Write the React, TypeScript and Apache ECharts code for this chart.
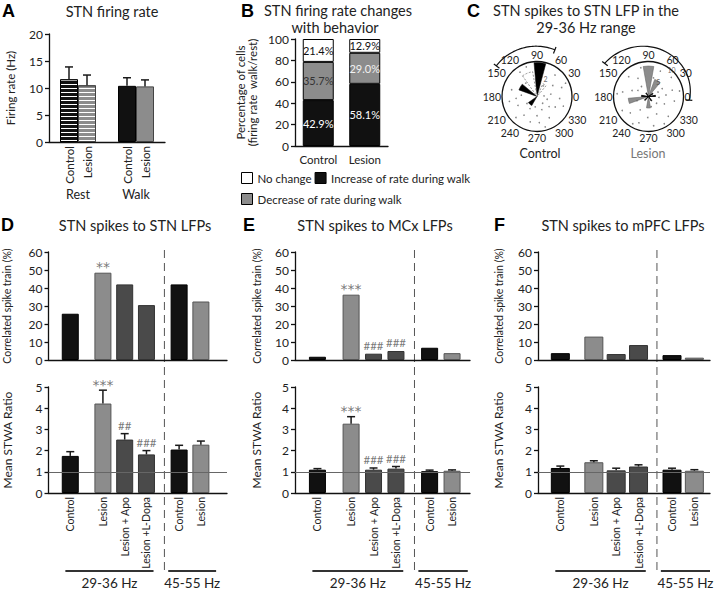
import React, { useEffect, useRef } from 'react';
import * as echarts from 'echarts';

const FONT = 'Lato, "Open Sans", Arial, sans-serif';
const STAR_FONT = '"DejaVu Sans", sans-serif';
const INK = '#222';

// ---------- Panel A: STN firing rate ----------
const aGroups = ['Rest', 'Walk'];
const aControl = [11.6, 10.4];
const aControlErr = [13.9, 11.9];
const aLesion = [10.5, 10.3];
const aLesionErr = [12.4, 11.5];

// ---------- Panel B: firing rate changes with behavior ----------
const bCategories = ['Control', 'Lesion'];
const bIncrease = [42.9, 58.1];
const bDecrease = [35.7, 29.0];
const bNoChange = [21.4, 12.9];

// ---------- Panel C: phase roses [start angle, end angle, relative length] ----------
const cControlBlack = [[75, 95, 0.97], [140, 160, 0.55], [215, 240, 0.3]];
const cControlWhite = [[100, 125, 0.72], [50, 65, 0.4]];
const cLesionGray = [[80, 100, 0.87], [50, 70, 0.52], [185, 200, 0.58], [260, 280, 0.33]];
const cLesionBlack = [[170, 180, 0.2], [0, 10, 0.2], [300, 310, 0.15], [30, 40, 0.15], [220, 230, 0.15], [120, 130, 0.12]];
// scattered spikes [angle, relative radius]
const cControlDots = [
  [20, 0.75], [35, 0.55], [50, 0.8], [10, 0.4], [355, 0.65], [340, 0.8], [320, 0.45], [300, 0.7],
  [285, 0.9], [270, 0.55], [255, 0.75], [240, 0.4], [225, 0.85], [205, 0.6], [190, 0.8], [175, 0.45],
  [165, 0.75], [125, 0.85], [110, 0.9], [60, 0.35], [5, 0.2], [310, 0.25], [260, 0.3], [330, 0.6],
  [290, 0.4], [235, 0.65], [345, 0.3], [25, 0.9], [275, 0.75], [215, 0.35], [185, 0.6], [130, 0.5],
];
const cLesionDots = [
  [15, 0.7], [30, 0.45], [65, 0.8], [5, 0.5], [350, 0.75], [335, 0.5], [315, 0.8], [295, 0.55],
  [280, 0.85], [268, 0.6], [250, 0.8], [238, 0.45], [222, 0.7], [208, 0.85], [170, 0.75], [160, 0.5],
  [135, 0.8], [120, 0.6], [105, 0.85], [40, 0.85], [355, 0.3], [320, 0.3], [285, 0.3], [200, 0.35],
  [150, 0.35], [25, 0.3], [300, 0.9], [240, 0.9], [10, 0.9], [175, 0.9], [125, 0.35], [75, 0.55],
];
const cControlScale = [[0.55, 64, '2'], [1.03, 49, '4']];
const cLesionScale = [[0.5, 56, '5'], [1.0, 49, '10']];

// ---------- Panels D, E, F ----------
const defGroups = ['Control', 'Lesion', 'Lesion + Apo', 'Lesion +L-Dopa', 'Control', 'Lesion'];
const dCorr = [25.7, 48.5, 42, 30.5, 42, 32.5];
const dCorrMarks = ['', '**', '', '', '', ''];
const dStwa = [1.75, 4.22, 2.52, 1.82, 2.05, 2.28];
const dStwaErr = [1.95, 4.85, 2.8, 2.0, 2.25, 2.45];
const dStwaMarks = ['', '***', '##', '###', '', ''];

const eCorr = [1.8, 36.3, 3.5, 5.0, 6.8, 3.8];
const eCorrMarks = ['', '***', '###', '###', '', ''];
const eStwa = [1.1, 3.27, 1.1, 1.15, 1.03, 1.05];
const eStwaErr = [1.15, 3.6, 1.18, 1.25, 1.08, 1.09];
const eStwaMarks = ['', '***', '###', '###', '', ''];

const fCorr = [3.8, 13, 3.3, 8.3, 2.7, 1.3];
const fCorrMarks = ['', '', '', '', '', ''];
const fStwa = [1.18, 1.45, 1.07, 1.25, 1.1, 1.05];
const fStwaErr = [1.27, 1.52, 1.17, 1.33, 1.17, 1.1];
const fStwaMarks = ['', '', '', '', '', ''];

// layout (not data)
const SLOTS = [0, 3, 5, 7, 10, 12];
const BAR_COLORS = ['#111', '#8c8c8c', '#4a4a4a', '#4a4a4a', '#111', '#8c8c8c'];
const BAR_BORDERS = ['#000', '#555', '#333', '#333', '#000', '#555'];

const stripe = {
  symbol: 'rect',
  symbolSize: 1,
  color: '#ffffff',
  backgroundColor: null,
  dashArrayX: [1, 0],
  dashArrayY: [1, 3],
  rotation: 0,
};

const axisLineStyle = { color: '#111', width: 1.3 };

function errRender(offsetPx: number) {
  return (params: any, api: any) => {
    const x = api.value(0);
    const sign = api.value(3) || 0;
    const base = api.coord([x, api.value(1)]);
    const top = api.coord([x, api.value(2)]);
    const cx = base[0] + sign * offsetPx;
    return {
      type: 'group',
      children: [
        { type: 'line', shape: { x1: cx, y1: base[1], x2: cx, y2: top[1] }, style: { stroke: '#1a1a1a', lineWidth: 1.5 } },
        { type: 'line', shape: { x1: cx - 4, y1: top[1], x2: cx + 4, y2: top[1] }, style: { stroke: '#1a1a1a', lineWidth: 1.5 } },
      ],
    };
  };
}

function yAxisBase(gridIndex: number, min: number, max: number, interval: number, name: string, nameGap: number, nameSize: number) {
  return {
    gridIndex, type: 'value', min, max, interval,
    name, nameLocation: 'middle', nameGap, nameRotate: 90,
    nameTextStyle: { fontSize: nameSize, color: INK, lineHeight: 12.5 },
    axisLine: { show: true, onZero: false, lineStyle: axisLineStyle },
    axisTick: { show: true, length: 4, lineStyle: axisLineStyle },
    axisLabel: { fontSize: 12, color: INK, margin: 6 }, splitLine: { show: false },
  };
}

function buildOption() {
  const grid: any[] = [];
  const xAxis: any[] = [];
  const yAxis: any[] = [];
  const series: any[] = [];

  // ---- A ----
  grid.push({ left: 49, top: 34, width: 116, height: 108 });
  xAxis.push({
    gridIndex: 0, type: 'category', data: aGroups,
    axisLine: { lineStyle: axisLineStyle }, axisTick: { show: false },
    axisLabel: { margin: 46, fontSize: 12.5, color: INK, interval: 0 },
  });
  yAxis.push(yAxisBase(0, 0, 20, 5, 'Firing rate (Hz)', 32, 11.5));
  const aLabel = (txt: string) => ({
    show: true, position: 'bottom', formatter: txt, rotate: 90, align: 'right', verticalAlign: 'middle',
    distance: 4, fontSize: 11.5, color: INK,
  });
  series.push({
    type: 'bar', name: 'Control', xAxisIndex: 0, yAxisIndex: 0, barWidth: 18, barGap: '0%',
    data: aControl.map((v, i) => ({ value: v, itemStyle: i === 0 ? { color: '#111', decal: stripe } : { color: '#111' } })),
    itemStyle: { borderColor: '#000', borderWidth: 1 },
    label: aLabel('Control'),
  });
  series.push({
    type: 'bar', name: 'Lesion', xAxisIndex: 0, yAxisIndex: 0, barWidth: 18, barGap: '0%',
    data: aLesion.map((v, i) => ({ value: v, itemStyle: i === 0 ? { color: '#8c8c8c', decal: stripe } : { color: '#8c8c8c' } })),
    itemStyle: { borderColor: '#444', borderWidth: 1 },
    label: aLabel('Lesion'),
  });
  series.push({
    type: 'custom', xAxisIndex: 0, yAxisIndex: 0, z: 5,
    renderItem: errRender(9),
    data: [
      ...aControl.map((v, i) => [i, v, aControlErr[i], -1]),
      ...aLesion.map((v, i) => [i, v, aLesionErr[i], 1]),
    ],
  });

  // ---- B ----
  grid.push({ left: 295, top: 39, width: 93, height: 107 });
  xAxis.push({
    gridIndex: 1, type: 'category', data: bCategories,
    axisLine: { lineStyle: axisLineStyle }, axisTick: { show: false },
    axisLabel: { margin: 7, fontSize: 11.5, color: INK, interval: 0 },
  });
  yAxis.push(yAxisBase(1, 0, 100, 20, 'Percentage of cells\n(firing rate  walk/rest)', 36, 11.5));
  const bLabel = (color: string) => ({ show: true, position: 'inside', formatter: (p: any) => p.value.toFixed(1) + '%', fontSize: 11, color });
  series.push({
    type: 'bar', name: 'Increase of rate during walk', xAxisIndex: 1, yAxisIndex: 1, stack: 'b', barWidth: 31,
    data: bIncrease, itemStyle: { color: '#111', borderColor: '#000', borderWidth: 1 }, label: bLabel('#fff'),
  });
  series.push({
    type: 'bar', name: 'Decrease of rate during walk', xAxisIndex: 1, yAxisIndex: 1, stack: 'b', barWidth: 31,
    data: bDecrease.map((v, i) => ({ value: v, label: { color: i === 0 ? '#333' : '#f2f2f2' } })),
    itemStyle: { color: '#8c8c8c', borderColor: '#000', borderWidth: 1 }, label: bLabel('#333'),
  });
  series.push({
    type: 'bar', name: 'No change', xAxisIndex: 1, yAxisIndex: 1, stack: 'b', barWidth: 31,
    data: bNoChange, itemStyle: { color: '#fff', borderColor: '#000', borderWidth: 1 }, label: bLabel('#111'),
  });

  // ---- D, E, F ----
  const panels = [
    { left: 48, width: 179, xMax: 14.4, barW: 17, gap: 35, corr: dCorr, corrMarks: dCorrMarks, stwa: dStwa, err: dStwaErr, marks: dStwaMarks },
    { left: 295, width: 175, xMax: 13.6, barW: 17, gap: 32, corr: eCorr, corrMarks: eCorrMarks, stwa: eStwa, err: eStwaErr, marks: eStwaMarks },
    { left: 538, width: 172, xMax: 13.4, barW: 19, gap: 33, corr: fCorr, corrMarks: fCorrMarks, stwa: fStwa, err: fStwaErr, marks: fStwaMarks },
  ];
  panels.forEach((p, k) => {
    const gt = 2 + k * 2;
    const gb = gt + 1;
    grid.push({ left: p.left, top: 252, width: p.width, height: 108 });
    grid.push({ left: p.left, top: 387, width: p.width, height: 106 });
    [gt, gb].forEach((g) => {
      xAxis.push({
        gridIndex: g, type: 'value', min: -2, max: p.xMax,
        axisLine: { show: true, onZero: false, lineStyle: axisLineStyle }, axisTick: { show: false },
        axisLabel: { show: false }, splitLine: { show: false },
      });
    });
    yAxis.push(yAxisBase(gt, 0, 60, 10, 'Correlated spike train (%)', p.gap, 10.5));
    yAxis.push(yAxisBase(gb, 0, 5, 1, 'Mean STWA Ratio', p.gap, 12));
    const barItems = (vals: number[]) =>
      vals.map((v, i) => ({
        value: [SLOTS[i], v], name: defGroups[i],
        itemStyle: { color: BAR_COLORS[i], borderColor: BAR_BORDERS[i], borderWidth: 1 },
      }));
    series.push({ type: 'bar', xAxisIndex: gt, yAxisIndex: gt, barWidth: p.barW, data: barItems(p.corr) });
    series.push({
      type: 'bar', xAxisIndex: gb, yAxisIndex: gb, barWidth: p.barW, data: barItems(p.stwa),
      label: {
        show: true, position: 'bottom', formatter: '{b}', rotate: 90, align: 'right', verticalAlign: 'middle',
        distance: 4, fontSize: 10.5, color: INK,
      },
      markLine: {
        silent: true, symbol: 'none', label: { show: false },
        lineStyle: { color: '#666', type: 'solid', width: 1 },
        data: [{ yAxis: 1 }],
      },
    });
    series.push({
      type: 'custom', xAxisIndex: gb, yAxisIndex: gb, z: 5, renderItem: errRender(0),
      data: p.stwa.map((v, i) => [SLOTS[i], v, p.err[i], 0]),
    });
    const markSeries = (g: number, tops: number[], marks: string[]) => ({
      type: 'scatter', xAxisIndex: g, yAxisIndex: g, symbolSize: 1, itemStyle: { color: 'rgba(0,0,0,0)' },
      data: tops
        .map((v, i) => ({
          value: [SLOTS[i], v], name: marks[i],
          label: marks[i].indexOf('*') >= 0
            ? { fontFamily: STAR_FONT, fontSize: 14, distance: -2, color: '#555' }
            : { fontFamily: FONT, fontSize: 11.5, distance: 2, color: '#555' },
        }))
        .filter((d) => d.name !== ''),
      label: { show: true, position: 'top', formatter: '{b}', color: '#555' },
      z: 6,
    });
    series.push(markSeries(gt, p.corr, p.corrMarks));
    series.push(markSeries(gb, p.err, p.marks));
  });

  // ---- C polar roses ----
  const centers = [[537, 96.5], [648.5, 96.5]];
  const polar: any[] = [];
  const angleAxis: any[] = [];
  const radiusAxis: any[] = [];
  centers.forEach((c, k) => {
    polar.push({ center: c, radius: 35 });
    angleAxis.push({
      polarIndex: k, type: 'value', min: 0, max: 360, interval: 30, startAngle: 0, clockwise: false,
      axisLine: { show: true, lineStyle: { color: '#111', width: 1.3 } }, axisTick: { show: false },
      axisLabel: { fontSize: 10.5, color: INK, margin: 1, showMinLabel: true, formatter: (v: number) => String(v % 360) },
      splitLine: { show: false },
    });
    radiusAxis.push({
      polarIndex: k, type: 'value', min: 0, max: 1,
      axisLine: { show: false }, axisTick: { show: false }, axisLabel: { show: false }, splitLine: { show: false },
    });
  });
  const rose = (pi: number, wedges: number[][], style: any) => ({
    type: 'custom', coordinateSystem: 'polar', polarIndex: pi, z: 2,
    encode: { radius: 0, angle: 1 },
    data: wedges.map(([a, b, r]) => [r, a, b]),
    renderItem: (params: any, api: any) => {
      const cs = params.coordSys;
      const p = api.coord([api.value(0), api.value(1)]);
      const rr = Math.hypot(p[0] - cs.cx, p[1] - cs.cy);
      const a = api.value(1);
      const b = api.value(2);
      return {
        type: 'sector',
        shape: { cx: cs.cx, cy: cs.cy, r0: 0, r: rr, startAngle: (-b * Math.PI) / 180, endAngle: (-a * Math.PI) / 180, clockwise: true },
        style,
      };
    },
  });
  series.push(rose(0, cControlBlack, { fill: '#000', stroke: '#000', lineWidth: 0.5 }));
  series.push(rose(0, cControlWhite, { fill: '#fff', stroke: '#777', lineWidth: 0.8, lineDash: [2, 1.5] }));
  series.push(rose(1, cLesionGray, { fill: '#8c8c8c', stroke: '#666', lineWidth: 0.6 }));
  series.push(rose(1, cLesionBlack, { fill: '#000', stroke: '#000', lineWidth: 0.8 }));
  const dots = (pi: number, pts: number[][]) => ({
    type: 'scatter', coordinateSystem: 'polar', polarIndex: pi, symbolSize: 1.6, itemStyle: { color: '#666' }, z: 3,
    data: pts.map(([a, r]) => [r, a]),
  });
  series.push(dots(0, cControlDots));
  series.push(dots(1, cLesionDots));
  const scaleLabels = (pi: number, pts: any[]) => ({
    type: 'scatter', coordinateSystem: 'polar', polarIndex: pi, symbolSize: 1, itemStyle: { color: 'rgba(0,0,0,0)' },
    data: pts.map(([r, a, t]) => ({ value: [r, a], name: t })),
    label: { show: true, position: 'inside', formatter: '{b}', fontSize: 7, color: '#444' },
    z: 4,
  });
  series.push(scaleLabels(0, cControlScale));
  series.push(scaleLabels(1, cLesionScale));

  const legendBase = {
    left: 236, icon: 'rect', itemWidth: 11, itemHeight: 11, itemGap: 3, selectedMode: false,
    itemStyle: { borderColor: '#000', borderWidth: 1 },
    textStyle: { fontSize: 11.5, color: INK, fontFamily: FONT },
  };

  return {
    animation: false,
    backgroundColor: '#fff',
    textStyle: { fontFamily: FONT },
    grid, xAxis, yAxis, polar, angleAxis, radiusAxis, series,
    legend: [
      { ...legendBase, top: 167, data: ['No change', 'Increase of rate during walk'] },
      { ...legendBase, top: 188, data: ['Decrease of rate during walk'] },
    ],
  };
}

function text(t: string, x: number, y: number, size: number, opts: any = {}) {
  return {
    type: 'text', x, y, silent: true,
    style: {
      text: t,
      font: `${opts.weight || 'normal'} ${size}px ${opts.family || FONT}`,
      fill: opts.fill || INK,
      textAlign: opts.align || 'center', align: opts.align || 'center',
      textVerticalAlign: 'middle', verticalAlign: 'middle',
    },
  };
}

export default function App() {
  const ref = useRef<HTMLDivElement>(null);
  useEffect(() => {
    const chart = echarts.init(ref.current!, null, { renderer: 'svg' });
    chart.setOption(buildOption() as any);

    const g: any[] = [];
    const LETTER = { weight: 'bold', family: '"Liberation Sans", Arial, sans-serif', align: 'left', fill: '#000' };
    g.push(text('A', 2, 11, 18, LETTER));
    g.push(text('B', 241, 11, 18, LETTER));
    g.push(text('C', 467, 11, 18, LETTER));
    g.push(text('D', 1, 225, 18, LETTER));
    g.push(text('E', 243, 225, 18, LETTER));
    g.push(text('F', 494, 225, 18, LETTER));

    g.push(text('STN firing rate', 112, 11, 14.5));
    g.push(text('STN firing rate changes', 338, 10, 14.5));
    g.push(text('with behavior', 335, 27, 14.5));
    g.push(text('STN spikes to STN LFP in the', 586, 10, 14.5));
    g.push(text('29-36 Hz range', 586, 27, 14.5));
    g.push(text('STN spikes to STN LFPs', 135, 225, 14.5));
    g.push(text('STN spikes to MCx LFPs', 375, 225, 14.5));
    g.push(text('STN spikes to mPFC LFPs', 623, 225, 14.5));

    g.push(text('Control', 540, 153, 12.5));
    g.push(text('Lesion', 648, 153, 12.5, { fill: '#777' }));

    // outer arcs around the roses
    const arcs = [
      { cx: 537, cy: 96.5, r0: 50, r1: 51, from: 69, to: 143 },
      { cx: 648.5, cy: 96.5, r0: 41, r1: 55, from: -5, to: 143 },
    ];
    arcs.forEach((a) => {
      const pts: number[][] = [];
      const steps = 40;
      for (let i = 0; i <= steps; i++) {
        const ang = a.from + ((a.to - a.from) * i) / steps;
        const r = a.r0 + ((a.r1 - a.r0) * i) / steps;
        const rad = (ang * Math.PI) / 180;
        pts.push([a.cx + r * Math.cos(rad), a.cy - r * Math.sin(rad)]);
      }
      g.push({ type: 'polyline', silent: true, shape: { points: pts }, style: { stroke: '#111', lineWidth: 1.2, fill: null } });
      [[a.from, a.r0], [a.to, a.r1]].forEach(([ang, r]) => {
        const rad = (ang * Math.PI) / 180;
        const c = Math.cos(rad), s = Math.sin(rad);
        g.push({
          type: 'line', silent: true,
          shape: { x1: a.cx + (r - 4) * c, y1: a.cy - (r - 4) * s, x2: a.cx + (r + 3) * c, y2: a.cy - (r + 3) * s },
          style: { stroke: '#111', lineWidth: 1.2 },
        });
      });
    });

    // dashed separators and frequency group bars for D, E, F
    [2, 4, 6].forEach((xi) => {
      const px = (v: number) => chart.convertToPixel({ xAxisIndex: xi } as any, v) as unknown as number;
      const xd = px(8.65);
      g.push({
        type: 'line', silent: true, shape: { x1: xd, y1: 250, x2: xd, y2: 572 },
        style: { stroke: '#555', lineWidth: 1, lineDash: [8, 5] },
      });
      const groups = [
        { a: -0.45, b: 7.65, t: '29-36 Hz' },
        { a: 9.0, b: 13.4, t: '45-55 Hz' },
      ];
      groups.forEach((gr) => {
        const x1 = px(gr.a), x2 = px(gr.b);
        g.push({ type: 'line', silent: true, shape: { x1, y1: 571, x2, y2: 571 }, style: { stroke: '#333', lineWidth: 2 } });
        g.push(text(gr.t, (x1 + x2) / 2, 583, 13.5));
      });
    });

    chart.setOption({ graphic: g } as any);
    return () => chart.dispose();
  }, []);
  return <div ref={ref} style={{ position: 'fixed', left: 0, top: 0, width: 720, height: 590, background: '#fff' }} />;
}
